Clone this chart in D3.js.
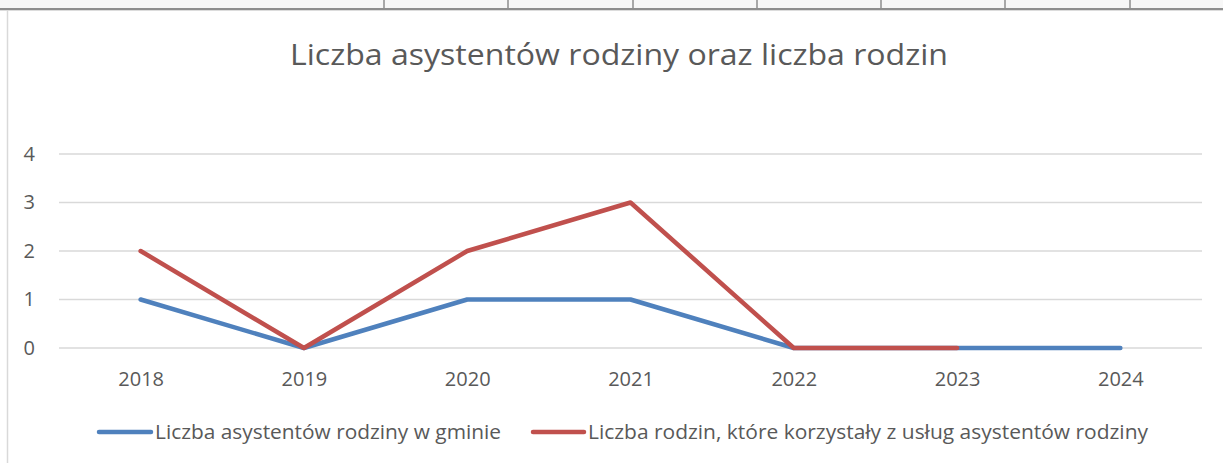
<!DOCTYPE html>
<html>
<head>
<meta charset="utf-8">
<script src="https://d3js.org/d3.v7.min.js"></script>
<style>
  body { margin: 0; background: #ffffff; }
  text { font-family: "Open Sans", "Noto Sans", sans-serif; fill: #595959; }
</style>
</head>
<body>
<div id="my_dataviz"></div>
<script>

// data
var years = ["2018", "2019", "2020", "2021", "2022", "2023", "2024"];
var asystenci = [1, 0, 1, 1, 0, 0, 0];
var rodziny = [2, 0, 2, 3, 0, 0, null];
var yTicks = [0, 1, 2, 3, 4];
var seriesNames = ["Liczba asystentów rodziny w gminie",
                   "Liczba rodzin, które korzystały z usług asystentów rodziny"];
var seriesColors = ["#4f81bd", "#c0504d"];

var W = 1223, H = 463;

var svg = d3.select("#my_dataviz")
  .append("svg")
    .attr("width", W)
    .attr("height", H);

// spreadsheet strip at the top
svg.append("rect")
  .attr("x", 0).attr("y", 0).attr("width", W).attr("height", 9)
  .attr("fill", "#f7f7f7");
[384, 508, 633, 757, 881, 1005, 1130].forEach(function(cx) {
  svg.append("line")
    .attr("x1", cx).attr("x2", cx).attr("y1", 0).attr("y2", 9)
    .attr("stroke", "#8e8e8e").attr("stroke-width", 1.5);
});
svg.append("line")
  .attr("x1", 0).attr("x2", W).attr("y1", 9).attr("y2", 9)
  .attr("stroke", "#8e8e8e").attr("stroke-width", 2);
svg.append("line")
  .attr("x1", 0).attr("x2", W).attr("y1", 10.5).attr("y2", 10.5)
  .attr("stroke", "#dcdcdc").attr("stroke-width", 1);

// chart frame left edge
svg.append("line")
  .attr("x1", 7.5).attr("x2", 7.5).attr("y1", 10).attr("y2", H)
  .attr("stroke", "#d9d9d9").attr("stroke-width", 1.5);

// title
svg.append("text")
  .attr("x", 619).attr("y", 65)
  .attr("text-anchor", "middle")
  .attr("textLength", 658)
  .attr("lengthAdjust", "spacingAndGlyphs")
  .style("font-size", "30px")
  .text("Liczba asystentów rodziny oraz liczba rodzin");

// scales
var x = d3.scalePoint()
  .domain(years)
  .range([59, 1202])
  .padding(0.5);

var y = d3.scaleLinear()
  .domain([0, 4])
  .range([348, 154]);

// gridlines
svg.append("g")
  .selectAll("line")
  .data(yTicks)
  .enter()
  .append("line")
    .attr("x1", 59).attr("x2", 1202)
    .attr("y1", function(d) { return y(d); })
    .attr("y2", function(d) { return y(d); })
    .attr("stroke", "#d9d9d9")
    .attr("stroke-width", 1.3);

// Y axis labels
var yAxis = svg.append("g")
  .attr("transform", "translate(35,0)")
  .call(d3.axisLeft(y).tickValues(yTicks).tickFormat(d3.format("d")).tickSize(0).tickPadding(0));
yAxis.select(".domain").remove();
yAxis.selectAll("text")
  .style("font-size", "20px")
  .style("fill", "#595959")
  .style("font-family", "Open Sans, sans-serif");

// X axis labels
var xAxis = svg.append("g")
  .attr("transform", "translate(0," + 372 + ")")
  .call(d3.axisBottom(x).tickSize(0).tickPadding(0));
xAxis.select(".domain").remove();
xAxis.selectAll("text")
  .style("font-size", "20px")
  .style("fill", "#595959")
  .style("font-family", "Open Sans, sans-serif");

// lines
var line = d3.line()
  .defined(function(d) { return d.v !== null; })
  .x(function(d) { return x(d.year); })
  .y(function(d) { return y(d.v); });

[asystenci, rodziny].forEach(function(vals, i) {
  var pts = years.map(function(yr, j) { return {year: yr, v: vals[j]}; });
  svg.append("path")
    .datum(pts)
    .attr("d", line)
    .attr("fill", "none")
    .attr("stroke", seriesColors[i])
    .attr("stroke-width", 4.5)
    .attr("stroke-linecap", "round")
    .attr("stroke-linejoin", "round");
});

// legend
var legendItems = [
  {x1: 99, x2: 151, tx: 155, len: 346},
  {x1: 533, x2: 584, tx: 588, len: 560}
];
legendItems.forEach(function(it, i) {
  svg.append("line")
    .attr("x1", it.x1).attr("x2", it.x2)
    .attr("y1", 432).attr("y2", 432)
    .attr("stroke", seriesColors[i])
    .attr("stroke-width", 4.5)
    .attr("stroke-linecap", "round");
  svg.append("text")
    .attr("x", it.tx).attr("y", 439)
    .attr("textLength", it.len)
    .attr("lengthAdjust", "spacingAndGlyphs")
    .style("font-size", "20px")
    .text(seriesNames[i]);
});

</script>
</body>
</html>
